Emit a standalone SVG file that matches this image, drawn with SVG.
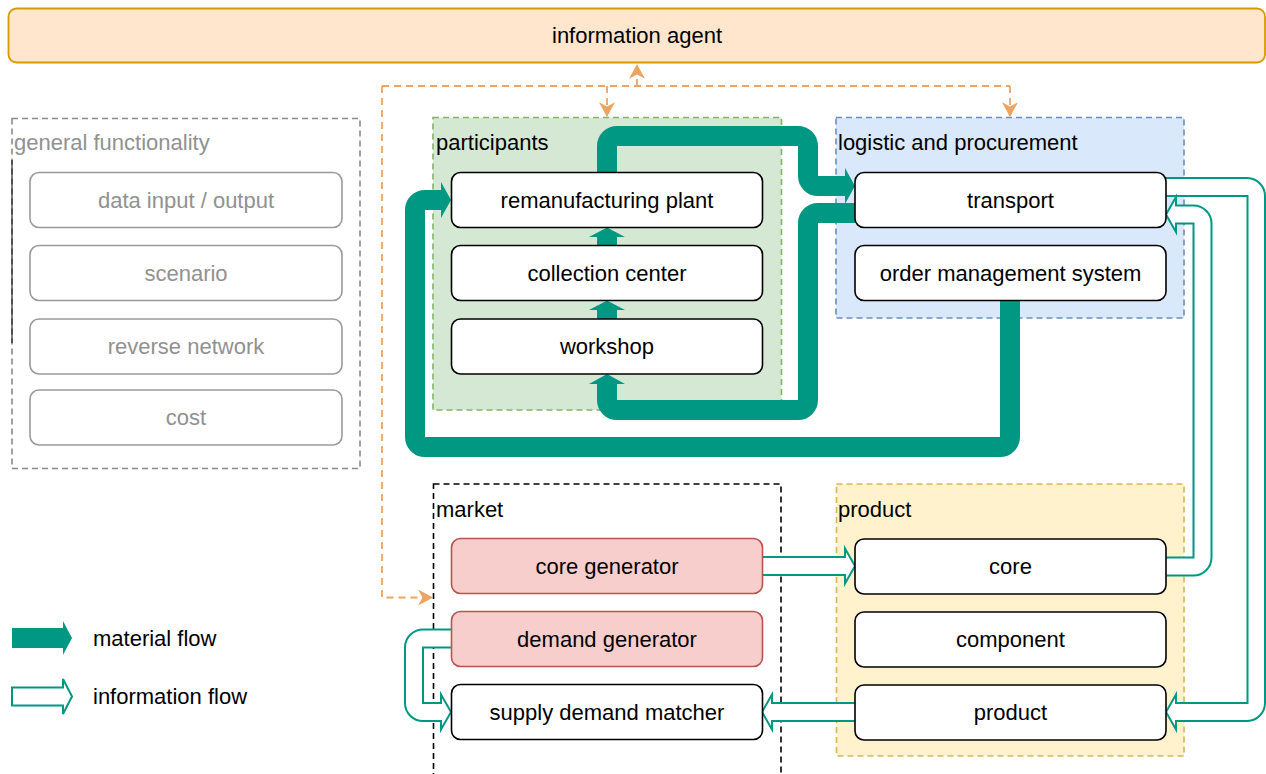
<svg xmlns="http://www.w3.org/2000/svg" width="1266" height="774" viewBox="0 0 1266 774">
<style>
text{font-family:"Liberation Sans",Arial,Helvetica,sans-serif;font-size:22px;fill:#000}
.c{text-anchor:middle}
.box{fill:#fff;stroke:#000;stroke-width:1.6}
.gbox{fill:#fff;stroke:#9a9a9a;stroke-width:1.6}
.gtxt{fill:#919191}
.red{fill:#f8cecc;stroke:#b85450;stroke-width:1.6}
.mat{fill:none;stroke:#009882;stroke-width:20}
.mhead{fill:#009882;stroke:none}
.info{fill:#fff;stroke:#009882;stroke-width:2;stroke-linejoin:miter}
.orange{fill:none;stroke:#eca462;stroke-width:1.8;stroke-dasharray:7 5}
</style>
<defs>
<marker id="oa" markerUnits="userSpaceOnUse" markerWidth="16" markerHeight="16" refX="13" refY="7.5" orient="auto" viewBox="0 0 14 15">
<path d="M0,0 L14,7.5 L0,15 L4,7.5 Z" fill="#eca462"/>
</marker>
</defs>
<rect width="1266" height="774" fill="#fff"/>

<g id="information-agent">
<rect x="8.5" y="8.5" width="1256.5" height="54" rx="8" fill="#ffe6cc" stroke="#d79b00" stroke-width="1.8"/>
<text class="c" x="637" y="43">information agent</text>
</g>

<g id="general-functionality">
<rect x="12" y="118.5" width="348" height="350" fill="none" stroke="#8a8a8a" stroke-width="1.6" stroke-dasharray="6 4"/>
<line x1="12" y1="160" x2="12" y2="343" stroke="#000" stroke-width="1"/>
<text class="gtxt" x="14" y="150">general functionality</text>
<rect class="gbox" x="30" y="172.5" width="312" height="55" rx="9"/>
<text class="c gtxt" x="186" y="207.5">data input / output</text>
<rect class="gbox" x="30" y="245.5" width="312" height="55" rx="9"/>
<text class="c gtxt" x="186" y="280.5">scenario</text>
<rect class="gbox" x="30" y="319" width="312" height="55" rx="9"/>
<text class="c gtxt" x="186" y="354">reverse network</text>
<rect class="gbox" x="30" y="390" width="312" height="55" rx="9"/>
<text class="c gtxt" x="186" y="425">cost</text>
</g>

<g id="participants">
<rect x="433" y="117.5" width="348.5" height="292.5" fill="#d5e8d4" stroke="#82b366" stroke-width="1.6" stroke-dasharray="6 4"/>
<text x="436" y="150">participants</text>
</g>

<g id="logistic-and-procurement">
<rect x="836" y="117.5" width="348" height="200.5" fill="#dae8fc" stroke="#6c8ebf" stroke-width="1.6" stroke-dasharray="6 4"/>
<text x="838" y="150">logistic and procurement</text>
</g>

<g id="market">
<rect x="433.5" y="484" width="347.5" height="300" fill="none" stroke="#000" stroke-width="1.6" stroke-dasharray="6 4"/>
<text x="436" y="517">market</text>
</g>

<g id="product-group">
<rect x="836.5" y="484" width="347.5" height="272" fill="#fff2cc" stroke="#d6b656" stroke-width="1.6" stroke-dasharray="6 4"/>
<text x="838" y="517">product</text>
</g>

<g id="connectors">
<path class="orange" d="M382,86 H1010"/>
<path class="orange" d="M637,86 V65" marker-end="url(#oa)"/>
<path class="orange" d="M607,86 V116" marker-end="url(#oa)"/>
<path class="orange" d="M1010,86 V116" marker-end="url(#oa)"/>
<path class="orange" d="M382,86 V597.5 H432" marker-end="url(#oa)"/>

<path class="mat" d="M607,172 V146 A10,10 0 0 1 617,136 H798 A10,10 0 0 1 808,146 V176 A10,10 0 0 0 818,186 H846"/>
<path class="mhead" d="M845,168 L855,186 L845,204 Z"/>
<path class="mat" d="M855,213 H818 A10,10 0 0 0 808,223 V400 A10,10 0 0 1 798,410 H617 A10,10 0 0 1 607,400 V383"/>
<path class="mhead" d="M589,384 L607,374 L625,384 Z"/>
<path class="mat" d="M1010,300 V437 A10,10 0 0 1 1000,447 H425 A10,10 0 0 1 415,437 V210 A10,10 0 0 1 425,200 H442"/>
<path class="mhead" d="M441,182 L451,200 L441,218 Z"/>
<path class="mat" d="M607,319 V309"/>
<path class="mhead" d="M589,310 L607,300.5 L625,310 Z"/>
<path class="mat" d="M607,246 V236"/>
<path class="mhead" d="M589,237 L607,227.5 L625,237 Z"/>

<path class="info" d="M1166,178 H1247.5 A18,18 0 0 1 1265,196 V703 A18,18 0 0 1 1247.5,721 H1176 V729.5 L1166,712 L1176,694.5 V703 H1247.5 V196 H1166"/>
<path class="info" d="M1166,575.5 H1193.5 A18,18 0 0 0 1211.5,557.5 V223.5 A18,18 0 0 0 1193.5,205.5 H1176 V197 L1166,214.5 L1176,232 V223.5 H1193.5 V557.5 H1166"/>
<path class="info" d="M762,557 H845 V548.5 L855,566 L845,583.5 V575 H762"/>
<path class="info" d="M855,703 H772 V694.5 L762,712 L772,729.5 V721 H855"/>
<path class="info" d="M451,629.5 H423 A18,18 0 0 0 405,647.5 V703 A18,18 0 0 0 423,721 H441 V729.5 L451,712 L441,694.5 V703 H423 V647.5 H451"/>
</g>

<g id="remanufacturing-plant">
<rect class="box" x="451.5" y="172.5" width="311" height="55" rx="9"/>
<text class="c" x="607" y="207.5">remanufacturing plant</text>
</g>
<g id="collection-center">
<rect class="box" x="451.5" y="245.5" width="311" height="55" rx="9"/>
<text class="c" x="607" y="280.5">collection center</text>
</g>
<g id="workshop">
<rect class="box" x="451.5" y="319" width="311" height="55" rx="9"/>
<text class="c" x="607" y="354">workshop</text>
</g>
<g id="transport">
<rect class="box" x="855" y="172.5" width="311" height="55" rx="9"/>
<text class="c" x="1010.5" y="207.5">transport</text>
</g>
<g id="order-management-system">
<rect class="box" x="855" y="245.5" width="311" height="55" rx="9"/>
<text class="c" x="1010.5" y="280.5">order management system</text>
</g>
<g id="core-generator">
<rect class="red" x="451.5" y="538.5" width="311" height="55" rx="9"/>
<text class="c" x="607" y="573.5">core generator</text>
</g>
<g id="demand-generator">
<rect class="red" x="451.5" y="611.5" width="311" height="55" rx="9"/>
<text class="c" x="607" y="646.5">demand generator</text>
</g>
<g id="supply-demand-matcher">
<rect class="box" x="451.5" y="684.5" width="311" height="55" rx="9"/>
<text class="c" x="607" y="719.5">supply demand matcher</text>
</g>
<g id="core">
<rect class="box" x="855" y="539" width="311" height="55" rx="9"/>
<text class="c" x="1010.5" y="574">core</text>
</g>
<g id="component">
<rect class="box" x="855" y="612" width="311" height="55" rx="9"/>
<text class="c" x="1010.5" y="647">component</text>
</g>
<g id="product">
<rect class="box" x="855" y="685" width="311" height="55" rx="9"/>
<text class="c" x="1010.5" y="720">product</text>
</g>

<g id="legend">
<path class="mat" d="M12,638 H64"/>
<path class="mhead" d="M63,621 L72,638 L63,655 Z"/>
<text x="93" y="645.5">material flow</text>
<path class="info" d="M12,687.5 H63 V679 L72,696.5 L63,714 V705.5 H12 Z"/>
<text x="93" y="704">information flow</text>
</g>
</svg>
